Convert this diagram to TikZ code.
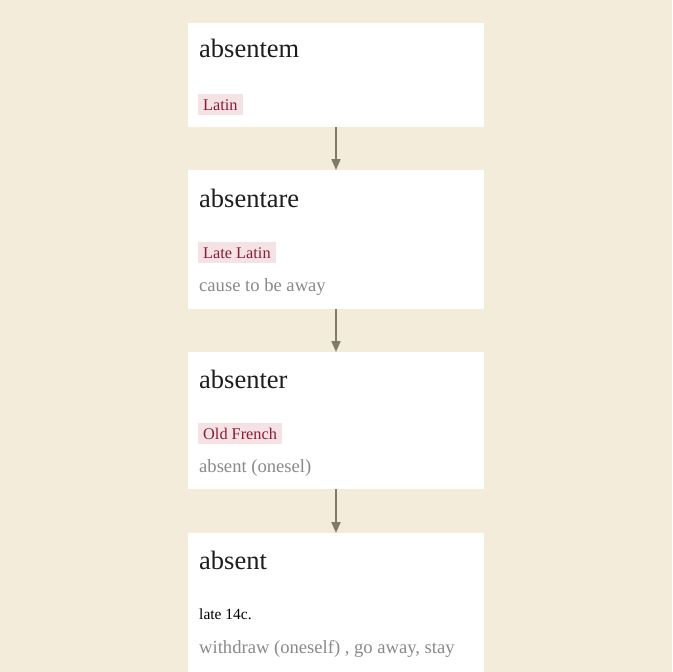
\documentclass[tikz,border=0pt]{standalone}
\usepackage{fontspec}
\setmainfont{Liberation Serif}
\usetikzlibrary{arrows.meta}
\definecolor{bg}{HTML}{F3ECDB}
\definecolor{graytext}{HTML}{8A8A8A}
\definecolor{tagfill}{HTML}{F4E2E5}
\definecolor{tagtext}{HTML}{8A1C33}
\definecolor{arrowc}{HTML}{7F7B6B}
\definecolor{titlec}{HTML}{1E1E1E}
\tikzset{
  card/.style={fill=white, draw=none, inner sep=0pt, outer sep=0pt, minimum width=296pt, anchor=north west},
  title/.style={anchor=base west, inner sep=0pt, text=titlec, font=\fontsize{26.5}{30}\selectfont},
  tag/.style={anchor=base west, fill=tagfill, text=tagtext, inner xsep=5pt, inner ysep=0pt, text height=16pt, text depth=5pt, font=\fontsize{16.3}{18}\selectfont},
  gloss/.style={anchor=base west, inner sep=0pt, text=graytext, font=\fontsize{18.6}{22}\selectfont},
  date/.style={anchor=base west, inner sep=0pt, text=black, font=\fontsize{15.5}{18}\selectfont},
  link/.style={draw=arrowc, line width=2pt, -{Triangle[length=11pt, width=9pt]}}
}
\begin{document}
\begin{tikzpicture}[x=1pt, y=-1pt]
\useasboundingbox (0,0) rectangle (672,672);
\clip (0,0) rectangle (672,672);
\fill[bg] (0,0) rectangle (672,672);
% cards
\node[card, minimum height=104pt] (b1) at (188,23) {};
\node[card, minimum height=139pt] (b2) at (188,170) {};
\node[card, minimum height=137pt] (b3) at (188,352) {};
\node[card, minimum height=180pt] (b4) at (188,533) {};
% card 1
\node[title] (t1) at (199,57) {absentem};
\node[tag] (g1) at (198,110) {Latin};
% card 2
\node[title] (t2) at (199,207) {absentare};
\node[tag] (g2) at (198,258) {Late Latin};
\node[gloss] (s2) at (199,291) {cause to be away};
% card 3
\node[title] (t3) at (199,388) {absenter};
\node[tag] (g3) at (198,439) {Old French};
\node[gloss] (s3) at (199,472) {absent (onesel)};
% card 4
\node[title] (t4) at (199,569) {absent};
\node[date] (d4) at (199,619) {late 14c.};
\node[gloss] (s4) at (199,653) {withdraw (oneself) , go away, stay};
\node[gloss] (s4b) at (199,682) {away};
% links
\draw[link] (b1.south) -- (b2.north);
\draw[link] (b2.south) -- (b3.north);
\draw[link] (b3.south) -- (b4.north);
\end{tikzpicture}
\end{document}
